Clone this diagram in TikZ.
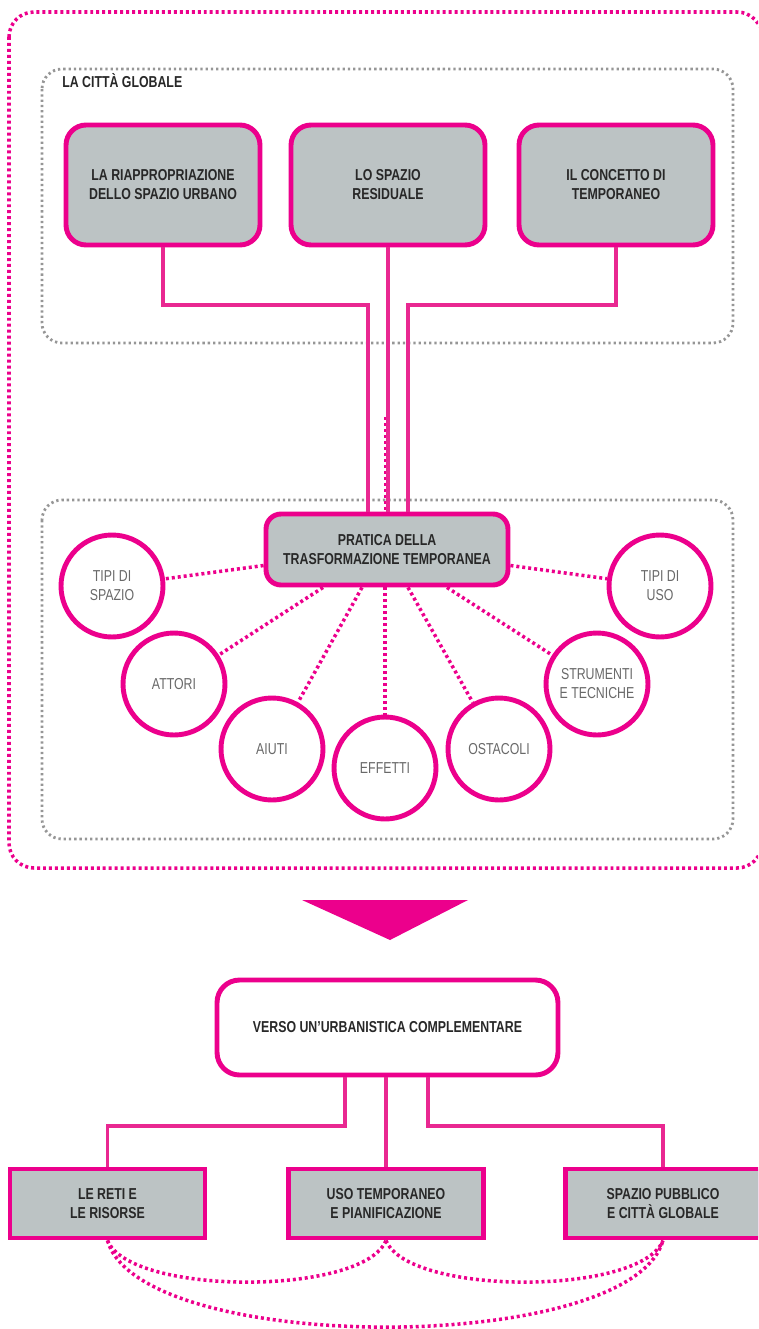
\documentclass[tikz,border=0pt]{standalone}
\usepackage{fontspec}
\setmainfont{Liberation Sans}[FakeStretch=0.78]
\usetikzlibrary{calc}
\definecolor{cM}{RGB}{236,0,140}
\definecolor{cL}{RGB}{233,40,145}
\definecolor{cG}{RGB}{188,195,196}
\definecolor{cD}{RGB}{150,150,150}
\definecolor{cT}{RGB}{40,40,40}
\definecolor{cC}{RGB}{105,105,105}
\newcommand{\myfont}{\fontsize{9}{10.8}\selectfont}
\tikzset{mybox/.style={
  shape=rectangle,
  rounded corners=0.4cm,
  draw=cM,
  fill=cG,
  line width=2.8pt,
  minimum width=3.88cm,
  minimum height=2.4cm,
  align=center,
  font=\myfont\bfseries,
  text=cT,
  }
}
\tikzset{mycircle/.style={
  shape=circle,
  draw=cM,
  fill=white,
  line width=2.8pt,
  minimum size=2.04cm,
  inner sep=0pt,
  align=center,
  font=\myfont,
  text=cC,
  }
}
\tikzset{myline/.style={
  draw=cL,
  line width=2.2pt,
  }
}
\tikzset{mydots/.style={
  draw=cM,
  line width=2pt,
  dash pattern=on 1.7pt off 1.7pt,
  }
}
\tikzset{mygrey/.style={
  draw=cD,
  line width=1.6pt,
  dash pattern=on 1.3pt off 1.7pt,
  rounded corners=0.4cm,
  }
}
\begin{document}
\begin{tikzpicture}[x=0.02cm, y=-0.02cm]
  \useasboundingbox (0,0) rectangle (758,1329);
  \clip (0,0) rectangle (758,1329);

  % frames
  \draw[mydots, rounded corners=0.5cm] (9,12) rectangle (762,868);
  \draw[mygrey] (42,69) rectangle (733,343);
  \draw[mygrey] (42,500) rectangle (733,839);
  \node[anchor=west, font=\myfont\bfseries, text=cT, inner sep=0pt] (t0) at (62,81) {LA CITTÀ GLOBALE};

  % top boxes
  \node[mybox] (b1) at (163,185) {LA RIAPPROPRIAZIONE\\DELLO SPAZIO URBANO};
  \node[mybox] (b2) at (388,185) {LO SPAZIO\\RESIDUALE};
  \node[mybox] (b3) at (616,185) {IL CONCETTO DI\\TEMPORANEO};

  % central box
  \node[mybox, rounded corners=0.3cm, minimum width=4.84cm, minimum height=1.42cm] (p1) at (387,549.5)
    {PRATICA DELLA\\TRASFORMAZIONE TEMPORANEA};

  \coordinate (j1) at (368,305);
  \coordinate (j3) at (408,305);
  \coordinate (j2) at (385,417);
  \draw[myline] (b1.south) |- (j1) -- (j1 |- p1.north);
  \draw[myline] (b2.south) -- (b2.south |- p1.north);
  \draw[myline] (b3.south) |- (j3) -- (j3 |- p1.north);
  \draw[mydots, line width=1.4pt] (j2) -- (j2 |- p1.north);

  % circles
  \node[mycircle] (c1) at (112,586) {TIPI DI\\SPAZIO};
  \node[mycircle] (c2) at (174,684) {ATTORI};
  \node[mycircle] (c3) at (272,749) {AIUTI};
  \node[mycircle] (c4) at (385,768) {EFFETTI};
  \node[mycircle] (c5) at (499,749) {OSTACOLI};
  \node[mycircle] (c6) at (597,684) {STRUMENTI\\E TECNICHE};
  \node[mycircle] (c7) at (660,586) {TIPI DI\\USO};

  \draw[mydots] ($(p1.west)+(0,16)$) -- (c1);
  \draw[mydots] ($(p1.south)+(-64,0)$) -- (c2);
  \draw[mydots] ($(p1.south)+(-25,0)$) -- (c3);
  \draw[mydots] (p1.south -| c4) -- (c4);
  \draw[mydots] ($(p1.south)+(21,0)$) -- (c5);
  \draw[mydots] ($(p1.south)+(60,0)$) -- (c6);
  \draw[mydots] ($(p1.east)+(0,16)$) -- (c7);

  % arrow
  \fill[cM] (302,900) -- (468,900) -- (390,940) -- cycle;

  % bottom part
  \node[mybox, fill=white, rounded corners=0.45cm, minimum width=6.82cm, minimum height=1.9cm] (v1) at (387.5,1027.5)
    {VERSO UN’URBANISTICA COMPLEMENTARE};
  \node[mybox, rounded corners=0pt, minimum width=3.9cm, minimum height=1.38cm] (r1) at (107.5,1203.5) {LE RETI E\\LE RISORSE};
  \node[mybox, rounded corners=0pt, minimum width=3.9cm, minimum height=1.38cm] (r2) at (386,1203.5) {USO TEMPORANEO\\E PIANIFICAZIONE};
  \node[mybox, rounded corners=0pt, minimum width=3.9cm, minimum height=1.38cm] (r3) at (663,1203.5) {SPAZIO PUBBLICO\\E CITTÀ GLOBALE};

  \coordinate (k1) at (345,1126);
  \coordinate (k3) at (428,1126);
  \draw[myline] (k1 |- v1.south) -- (k1) -| (r1.north);
  \draw[myline] (r2.north |- v1.south) -- (r2.north);
  \draw[myline] (k3 |- v1.south) -- (k3) -| (r3.north);

  \draw[mydots] (r1.south) .. controls (130,1296) and (364,1296) .. (r2.south);
  \draw[mydots] (r2.south) .. controls (408,1296) and (641,1296) .. (r3.south);
  \draw[mydots] (r1.south) .. controls (140,1356) and (631,1356) .. (r3.south);
\end{tikzpicture}
\end{document}
